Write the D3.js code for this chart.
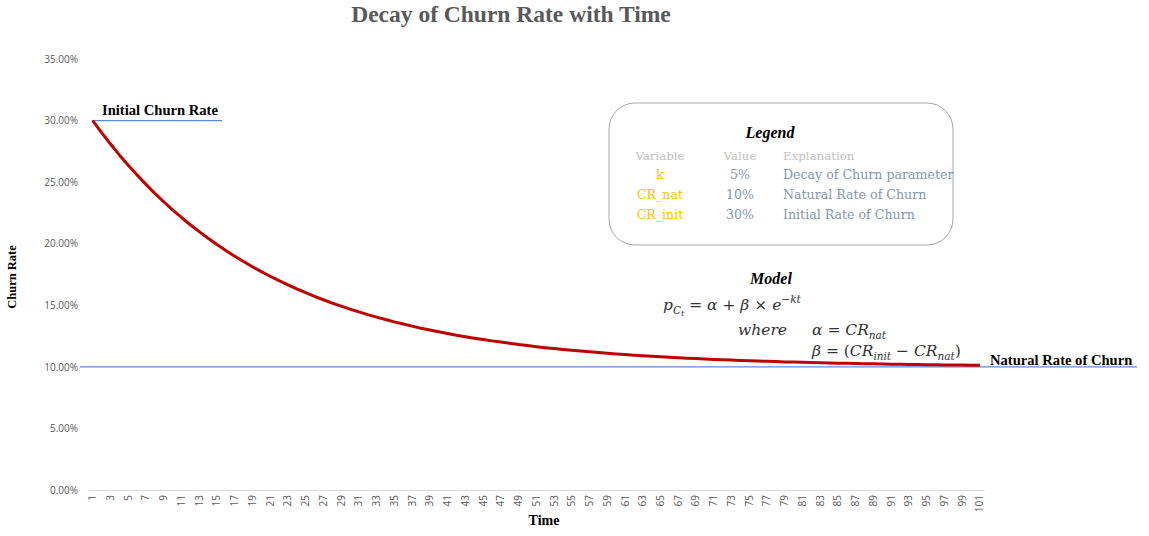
<!DOCTYPE html>
<html>
<head>
<meta charset="utf-8">
<script src="https://cdn.jsdelivr.net/npm/d3@7"></script>
<style>
  body { margin: 0; background: #fff; }
  svg { display: block; }
</style>
</head>
<body>
<svg id="chart" width="1149" height="536"></svg>
<script>
// Time periods 1..101 (x categories)
const periods = d3.range(1, 102);

// Churn rate (%) for each period
const churnRate = [
  30.00, 29.02, 28.10, 27.21, 26.37, 25.58, 24.82, 24.09, 23.41, 22.75,
  22.13, 21.54, 20.98, 20.44, 19.93, 19.45, 18.99, 18.55, 18.13, 17.73,
  17.36, 17.00, 16.66, 16.33, 16.02, 15.73, 15.45, 15.18, 14.93, 14.69,
  14.46, 14.24, 14.04, 13.84, 13.65, 13.48, 13.31, 13.14, 12.99, 12.85,
  12.71, 12.57, 12.45, 12.33, 12.22, 12.11, 12.01, 11.91, 11.81, 11.73,
  11.64, 11.56, 11.49, 11.41, 11.34, 11.28, 11.22, 11.16, 11.10, 11.05,
  11.00, 10.95, 10.90, 10.86, 10.82, 10.78, 10.74, 10.70, 10.67, 10.63,
  10.60, 10.57, 10.55, 10.52, 10.49, 10.47, 10.45, 10.43, 10.40, 10.39,
  10.37, 10.35, 10.33, 10.32, 10.30, 10.29, 10.27, 10.26, 10.25, 10.23,
  10.22, 10.21, 10.20, 10.19, 10.18, 10.17, 10.16, 10.16, 10.15, 10.14,
  10.13
];

// Reference levels
const initialRate = 30;
const naturalRate = 10;

// Y axis ticks (%)
const yTicks = [0, 5, 10, 15, 20, 25, 30, 35];

// Legend table
const legendVars = ['k', 'CR_nat', 'CR_init'];
const legendVals = ['5%', '10%', '30%'];
const legendExpl = ['Decay of Churn parameter', 'Natural Rate of Churn', 'Initial Rate of Churn'];

const svg = d3.select('#chart');
const serif = '"Liberation Serif", "DejaVu Serif", serif';
const wideSerif = '"DejaVu Serif", "Liberation Serif", serif';
const sans = '"Open Sans", "Liberation Sans", sans-serif';

const x = d3.scaleBand().domain(periods).range([88.3, 984.3]);
const y = d3.scaleLinear().domain([0, 35]).range([490, 59]);
const cx = d => x(d) + x.bandwidth() / 2;

// Title
svg.append('text')
  .attr('x', 511).attr('y', 22)
  .attr('text-anchor', 'middle')
  .style('font-family', serif).style('font-weight', 'bold')
  .style('font-size', '23.5px').style('fill', '#595959')
  .text('Decay of Churn Rate with Time');

// Y axis labels (no axis line)
const yAxis = svg.append('g').attr('transform', 'translate(78,0)')
  .call(d3.axisLeft(y).tickValues(yTicks).tickSize(0).tickPadding(0)
    .tickFormat(d => d.toFixed(2) + '%'));
yAxis.select('.domain').remove();
yAxis.selectAll('text').style('font-family', sans).style('font-size', '10px').style('fill', '#595959');

// X axis
const xAxis = svg.append('g').attr('transform', 'translate(0,490)')
  .call(d3.axisBottom(x).tickValues(periods.filter(d => d % 2 === 1)).tickSize(0).tickPadding(0));
xAxis.select('.domain').attr('stroke', '#d9d9d9').attr('stroke-width', 1.2);
xAxis.selectAll('text')
  .attr('transform', 'rotate(-90)')
  .attr('text-anchor', 'end')
  .attr('x', -5).attr('y', 0).attr('dy', '0.35em')
  .style('font-family', sans).style('font-size', '10px').style('fill', '#595959');

// Axis titles
svg.append('text')
  .attr('transform', 'translate(16,277) rotate(-90)')
  .attr('text-anchor', 'middle')
  .style('font-family', serif).style('font-weight', 'bold').style('font-size', '12.5px')
  .text('Churn Rate');
svg.append('text')
  .attr('x', 544).attr('y', 525)
  .attr('text-anchor', 'middle')
  .style('font-family', serif).style('font-weight', 'bold').style('font-size', '14px')
  .text('Time');

// Reference lines
svg.append('line')
  .attr('x1', 80).attr('x2', 1137)
  .attr('y1', y(naturalRate)).attr('y2', y(naturalRate))
  .attr('stroke', '#5b8bd6').attr('stroke-width', 1.3);
svg.append('line')
  .attr('x1', cx(1) - 1).attr('x2', 222)
  .attr('y1', y(initialRate)).attr('y2', y(initialRate))
  .attr('stroke', '#5b8bd6').attr('stroke-width', 1.3);

svg.append('text')
  .attr('x', 102).attr('y', 115)
  .style('font-family', serif).style('font-weight', 'bold').style('font-size', '14.6px')
  .text('Initial Churn Rate');
svg.append('text')
  .attr('x', 990).attr('y', 365)
  .style('font-family', serif).style('font-weight', 'bold').style('font-size', '14.6px')
  .text('Natural Rate of Churn');

// Curve
svg.append('path')
  .datum(churnRate)
  .attr('fill', 'none')
  .attr('stroke', '#c00000')
  .attr('stroke-width', 3)
  .attr('stroke-linejoin', 'round')
  .attr('d', d3.line().x((d, i) => cx(periods[i])).y(d => y(d)));

// Legend box
svg.append('rect')
  .attr('x', 609).attr('y', 103).attr('width', 344).attr('height', 142)
  .attr('rx', 26).attr('ry', 26)
  .attr('fill', '#fff').attr('stroke', '#a6a6a6').attr('stroke-width', 1);
svg.append('text')
  .attr('x', 770).attr('y', 138)
  .attr('text-anchor', 'middle')
  .style('font-family', serif).style('font-weight', 'bold').style('font-style', 'italic')
  .style('font-size', '16px')
  .text('Legend');

const hdr = svg.append('g').style('font-family', wideSerif).style('font-size', '11.8px').style('fill', '#bfbfbf');
hdr.append('text').attr('x', 660).attr('y', 160).attr('text-anchor', 'middle').text('Variable');
hdr.append('text').attr('x', 740).attr('y', 160).attr('text-anchor', 'middle').text('Value');
hdr.append('text').attr('x', 783).attr('y', 160).text('Explanation');

const rows = svg.append('g').style('font-family', wideSerif).style('font-size', '12.6px');
legendVars.forEach((v, i) => {
  const ry = 179 + i * 20;
  rows.append('text').attr('x', 660).attr('y', ry).attr('text-anchor', 'middle')
    .style('fill', '#ffc000').text(v);
  rows.append('text').attr('x', 740).attr('y', ry).attr('text-anchor', 'middle')
    .style('fill', '#8497b0').text(legendVals[i]);
  rows.append('text').attr('x', 783).attr('y', ry)
    .style('fill', '#8497b0').text(legendExpl[i]);
});

// Model
svg.append('text')
  .attr('x', 771).attr('y', 284)
  .attr('text-anchor', 'middle')
  .style('font-family', serif).style('font-weight', 'bold').style('font-style', 'italic')
  .style('font-size', '16px')
  .text('Model');

const math = svg.append('g')
  .style('font-family', wideSerif).style('font-size', '15.5px').style('fill', '#333');

const f1 = math.append('text').attr('x', 663).attr('y', 310);
f1.append('tspan').style('font-style', 'italic').text('p');
f1.append('tspan').attr('dy', 4).style('font-size', '10.5px').style('font-style', 'italic').text('C');
f1.append('tspan').attr('dy', 2).style('font-size', '8px').style('font-style', 'italic').text('t');
f1.append('tspan').attr('dy', -6).text(' = ');
f1.append('tspan').style('font-style', 'italic').text('α');
f1.append('tspan').text(' + ');
f1.append('tspan').style('font-style', 'italic').text('β');
f1.append('tspan').text(' × ');
f1.append('tspan').style('font-style', 'italic').text('e');
f1.append('tspan').attr('dy', -7).style('font-size', '10.5px').style('font-style', 'italic').text('−kt');

math.append('text').attr('x', 738).attr('y', 335).style('font-style', 'italic').text('where');

const f2 = math.append('text').attr('x', 812).attr('y', 335);
f2.append('tspan').style('font-style', 'italic').text('α');
f2.append('tspan').text(' = ');
f2.append('tspan').style('font-style', 'italic').text('CR');
f2.append('tspan').attr('dy', 4).style('font-size', '10.5px').style('font-style', 'italic').text('nat');

const f3 = math.append('text').attr('x', 812).attr('y', 356);
f3.append('tspan').style('font-style', 'italic').text('β');
f3.append('tspan').text(' = (');
f3.append('tspan').style('font-style', 'italic').text('CR');
f3.append('tspan').attr('dy', 4).style('font-size', '10.5px').style('font-style', 'italic').text('init');
f3.append('tspan').attr('dy', -4).text(' − ');
f3.append('tspan').style('font-style', 'italic').text('CR');
f3.append('tspan').attr('dy', 4).style('font-size', '10.5px').style('font-style', 'italic').text('nat');
f3.append('tspan').attr('dy', -4).text(')');
</script>
</body>
</html>
